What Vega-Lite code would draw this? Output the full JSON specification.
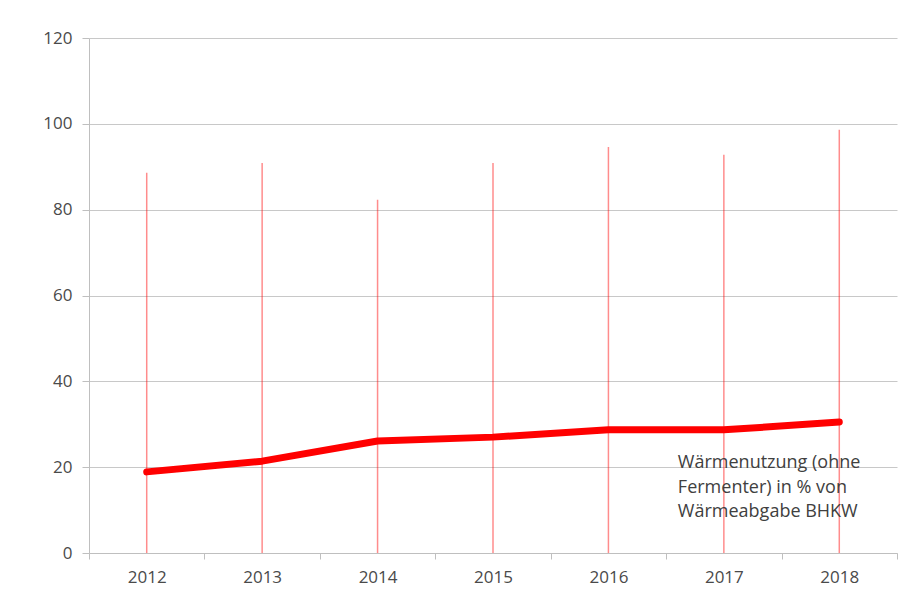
{
  "$schema": "https://vega.github.io/schema/vega-lite/v6.json",
  "width": 808,
  "height": 515,
  "autosize": {"type": "none"},
  "padding": {"left": 89, "top": 38, "right": 3, "bottom": 40},
  "background": "white",
  "config": {
    "view": {"stroke": null},
    "font": "Open Sans",
    "axis": {
      "labelFont": "Open Sans",
      "labelFontSize": 17,
      "labelColor": "#4a4a4a",
      "domainColor": "#bfbfbf",
      "tickColor": "#bfbfbf",
      "gridColor": "#c8c8c8",
      "title": null
    }
  },
  "data": {
    "values": [
      {"year": "2012", "total": 88.6, "use": 18.9},
      {"year": "2013", "total": 90.9, "use": 21.4},
      {"year": "2014", "total": 82.3, "use": 26.1},
      {"year": "2015", "total": 90.9, "use": 27.0},
      {"year": "2016", "total": 94.6, "use": 28.7},
      {"year": "2017", "total": 92.8, "use": 28.7},
      {"year": "2018", "total": 98.6, "use": 30.5}
    ]
  },
  "layer": [
    {
      "mark": {"type": "rule", "color": "#ff0000", "opacity": 0.45, "strokeWidth": 1.5},
      "encoding": {
        "x": {
          "field": "year",
          "type": "nominal",
          "scale": {"type": "band", "paddingInner": 0, "paddingOuter": 0},
          "axis": {"labelAngle": 0, "tickBand": "extent", "tickSize": 6, "labelPadding": 10, "grid": false}
        },
        "y": {
          "field": "total",
          "type": "quantitative",
          "scale": {"domain": [0, 120]},
          "axis": {"values": [0, 20, 40, 60, 80, 100, 120], "tickSize": 7, "labelPadding": 10, "grid": true}
        },
        "y2": {"datum": 0}
      }
    },
    {
      "mark": {"type": "line", "color": "#ff0000", "strokeWidth": 7, "strokeCap": "round", "strokeJoin": "round"},
      "encoding": {
        "x": {"field": "year", "type": "nominal"},
        "y": {"field": "use", "type": "quantitative"}
      }
    },
    {
      "data": {"values": [{"year": "2017", "yv": 19.8, "label": ["Wärmenutzung (ohne", "Fermenter) in % von", "Wärmeabgabe BHKW"]}]},
      "mark": {"type": "text", "align": "left", "baseline": "alphabetic", "dx": -46, "fontSize": 18, "lineHeight": 24.5, "color": "#404040", "font": "Open Sans"},
      "encoding": {
        "x": {"field": "year", "type": "nominal"},
        "y": {"field": "yv", "type": "quantitative"},
        "text": {"field": "label"}
      }
    }
  ]
}
